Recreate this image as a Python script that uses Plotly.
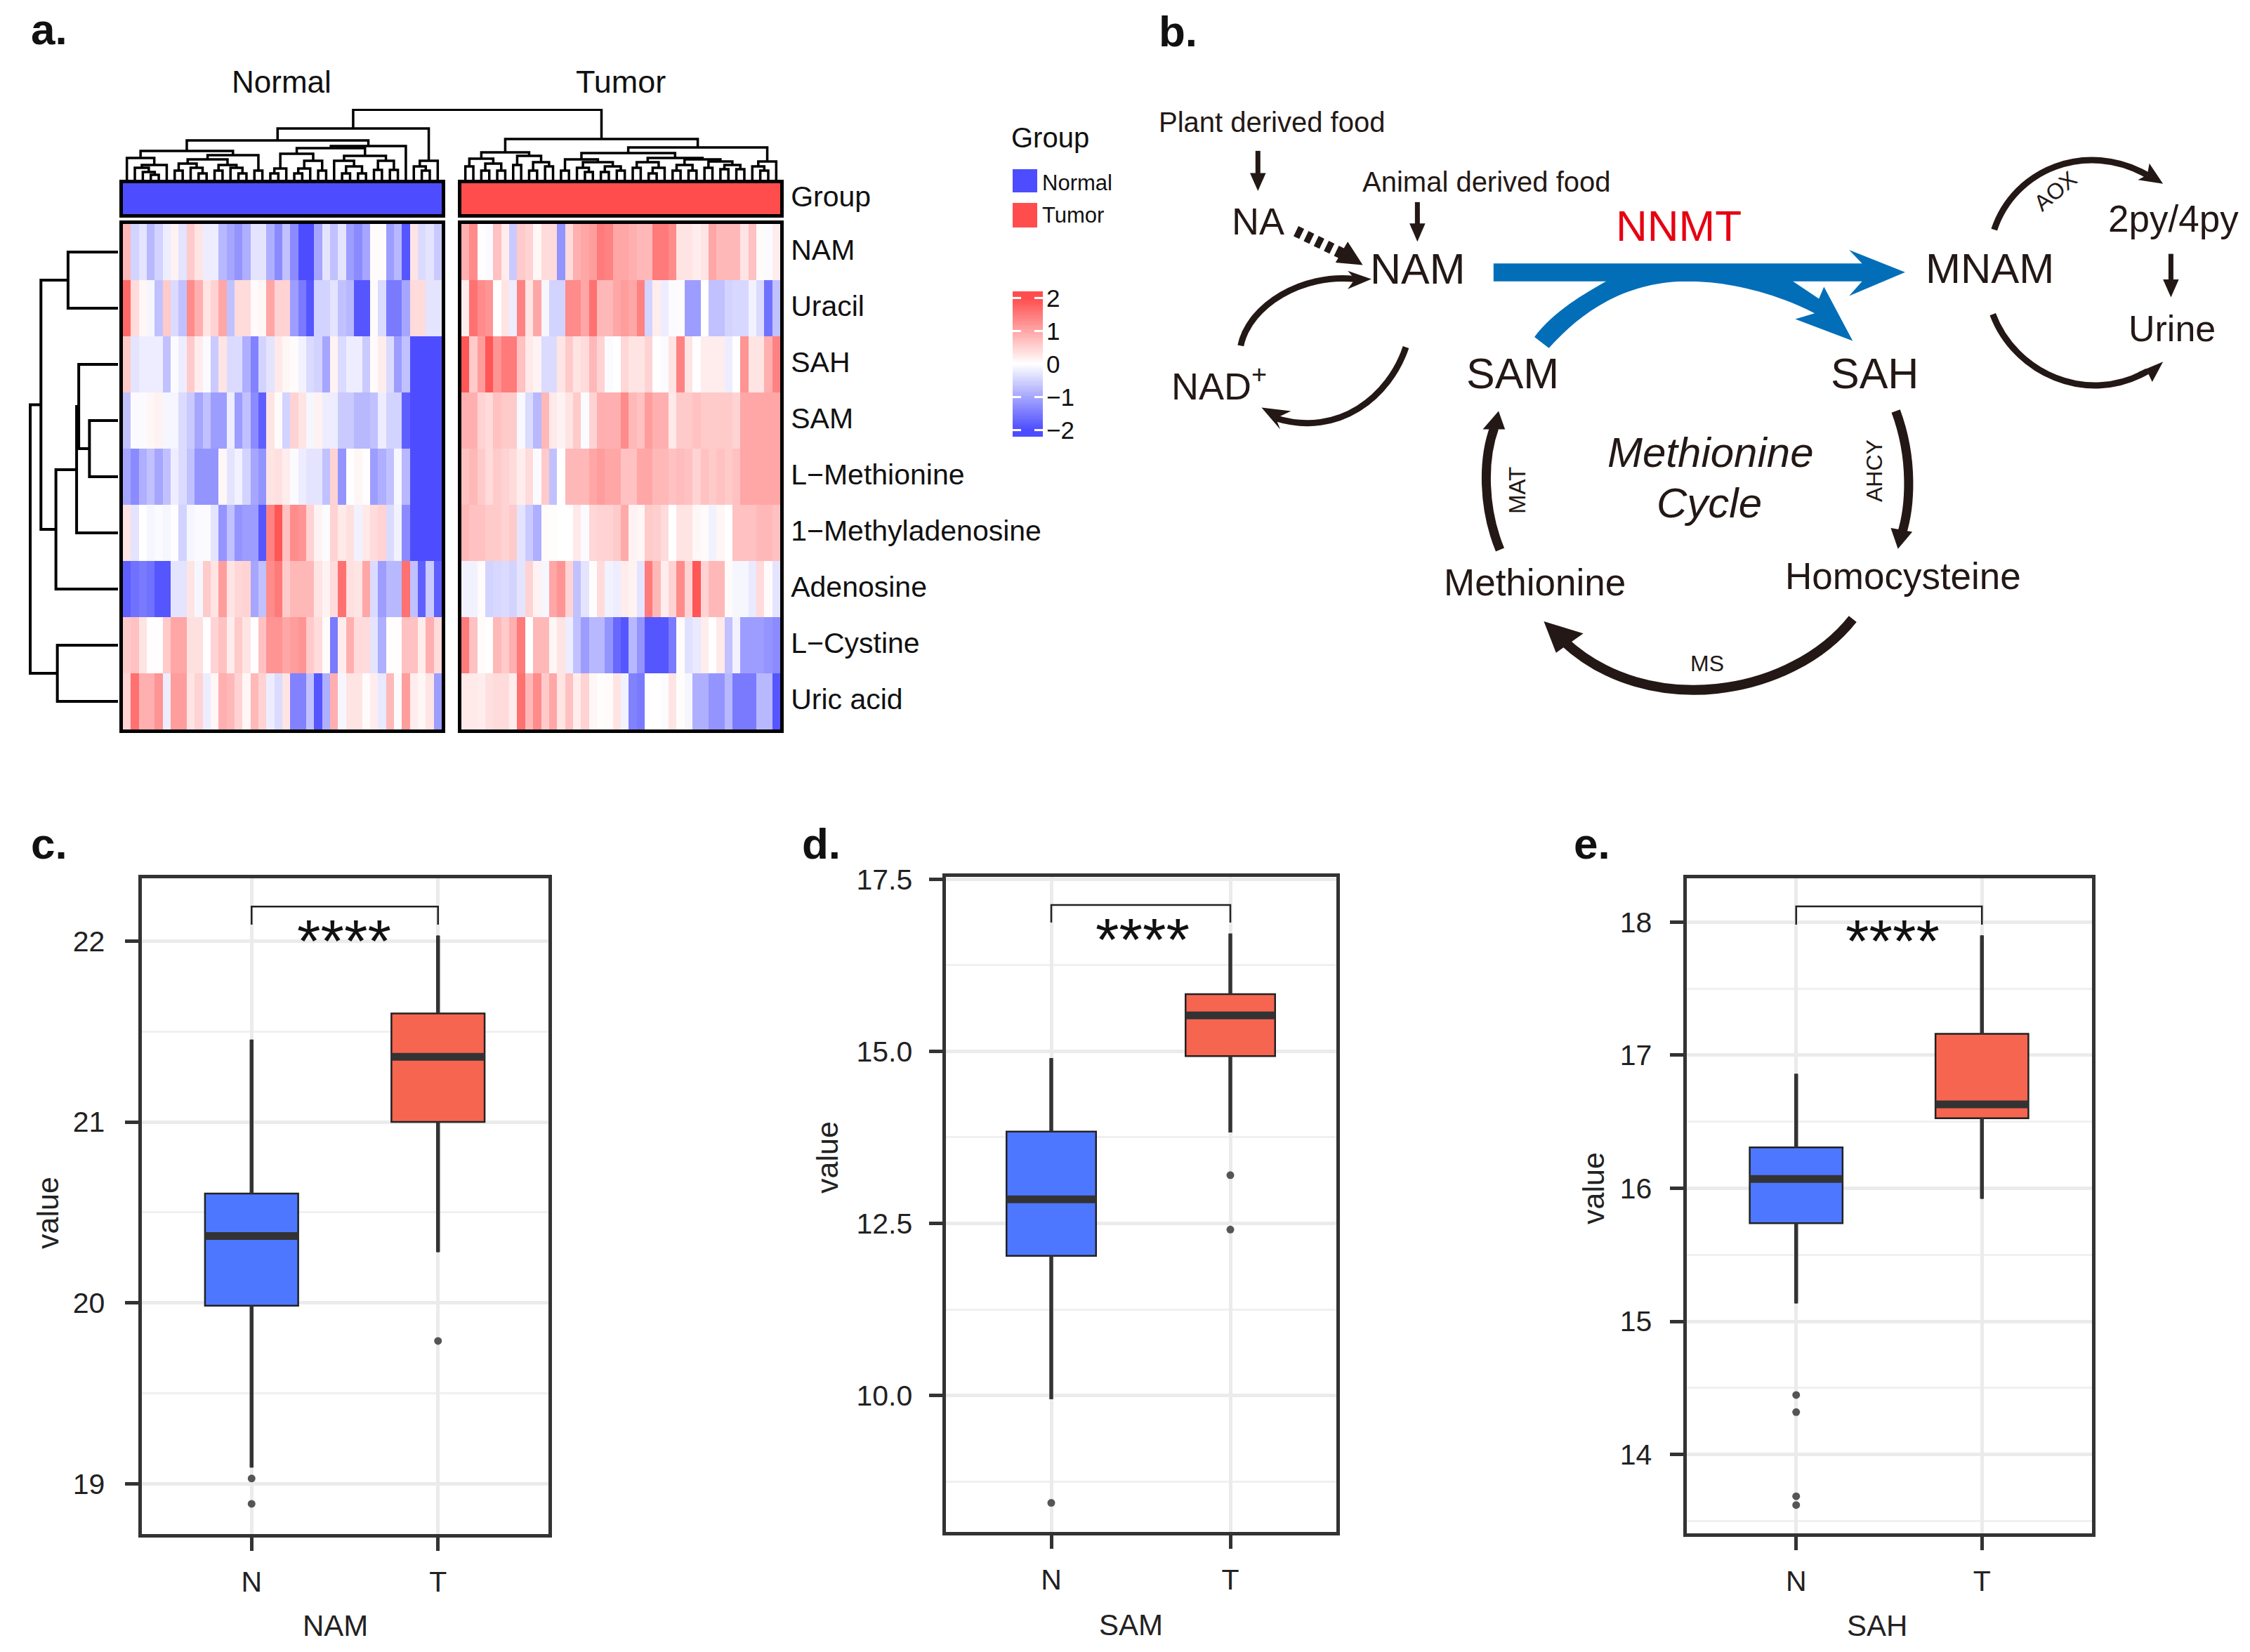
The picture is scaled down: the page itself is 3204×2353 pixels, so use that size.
import numpy as np
import plotly.graph_objects as go

# ---------- data ----------
row_names = ["NAM", "Uracil", "SAH", "SAM", "L\u2212Methionine", "1\u2212Methyladenosine",
             "Adenosine", "L\u2212Cystine", "Uric acid"]

normal_values = [
 [0.8,-0.5,-0.3,-0.8,-0.5,-0.2,0.15,-0.3,0.6,0.3,-0.2,-0.2,-0.8,-1.0,-1.2,-0.9,-0.3,-0.3,-0.9,-1.3,-0.7,-1.3,-2,-2,-1,-0.3,-0.7,-0.3,-1.1,-1.3,-1.0,0.05,0.05,-1.1,-0.8,-1.9,0.3,-0.4,-0.3,-0.6],
 [1.7,0.4,0.1,-0.1,-0.7,0.6,-0.4,-0.7,1.3,0.9,0.3,0.5,1.0,-0.7,0.4,0.4,0.05,0.1,1.0,0.5,0.5,-1.1,-1.5,-1.9,-0.5,-0.5,-0.3,-0.7,-0.8,-1.9,-1.9,0.05,-0.4,-1.5,-1.5,-1.0,0.4,0.4,-0.3,-0.3],
 [0.6,-0.3,-0.2,-0.2,-0.2,-0.7,-0.05,-0.2,0.6,0.2,-0.05,-0.6,0.3,-0.4,-0.4,-0.9,-1.4,-0.5,-0.3,0.25,0.1,0.05,-0.15,-0.4,-0.5,-1.0,0.15,-0.4,-0.2,-0.2,-0.6,0.05,0.2,-0.4,-1.1,-0.7,-2,-2,-2,-2],
 [-0.7,-0.05,-0.05,0.1,0.15,-0.1,-0.1,-0.4,-0.6,-1.0,-0.7,-1.1,-1.1,-0.2,-1.1,-0.7,-1.3,-1.8,0.3,0.05,-0.5,0.5,0.3,-0.1,0.15,-0.2,-0.2,-0.6,-0.6,-0.8,-0.8,-0.7,-0.2,-0.5,-0.5,-1.8,-2,-2,-2,-2],
 [-1.0,-1.3,-0.9,-0.7,-1.0,-0.7,-0.2,-0.4,-0.7,-1.2,-1.2,-1.2,0.1,-0.3,-0.15,-0.5,-1.0,-1.2,0.3,0.35,0.2,-0.05,-0.2,-0.3,-0.3,-0.7,0.5,-1.2,0.0,0.1,0.02,-1.1,-0.9,-0.7,-0.1,-0.8,-2,-2,-2,-2],
 [0.3,-0.3,0,-0.1,-0.05,-0.1,0.02,-0.5,-0.1,-0.05,-0.05,-0.3,-1.2,-0.7,-1.2,-1.1,-1.1,-1.9,1.4,1.9,0.7,1.3,1.2,0.5,0.15,-0.03,0.5,0.25,0.35,-0.15,0.25,0.4,0.5,-0.4,-0.15,-1.3,-2,-2,-2,-2],
 [-1.8,-1.6,-1.5,-1.6,-1.9,-1.9,-0.3,-0.3,0.3,-0.1,0.6,0.3,1.1,0.3,0.45,0.5,-1.0,-0.7,1.3,1.5,0.6,0.8,0.8,0.8,0.3,0.15,0.4,1.6,0.35,0.3,1.0,-0.4,-1.1,-0.8,-0.8,1.6,-0.7,-1.8,-0.6,-1.8],
 [0.6,0.7,0.3,0.02,0.02,0.6,1.0,1.0,0.35,0.35,0.0,0.5,0.7,0.2,0.6,0.3,0.02,0.7,1.2,1.2,1.0,1.1,1.2,0.6,0.4,0.05,-1.5,0.2,0.9,0.4,0.4,-0.3,-0.9,0.02,0.02,0.7,0.7,0.2,0.9,0.4],
 [0.5,1.6,0.9,0.9,1.2,-0.2,1.1,1.1,0.3,0.5,-0.2,0.1,0.9,0.8,0.5,0.1,0.8,0.5,-0.2,-0.4,0.3,-1.4,-1.4,-0.7,-1.9,-0.9,0.9,-0.1,0.3,0.3,0.05,0.2,-0.25,0.8,-0.05,1.1,0.2,0.1,0.3,-1.1],
]
tumor_values = [
 [0.9,1.3,0.02,-0.05,0.7,0.2,-0.6,0.6,0.5,0.1,0.4,0.4,-1.2,0.4,0.9,1.0,1.1,1.5,1.4,1.0,1.0,0.9,0.8,0.8,1.5,1.5,1.3,0.3,0.3,0.2,0.3,1.0,0.8,0.8,0.8,0.3,0.7,0.05,-0.05,0.2],
 [0.2,1.6,1.3,1.2,0.02,0.3,-0.2,1.4,0.3,1.0,-0.1,-0.5,-0.5,1.3,1.3,1.0,1.6,0.8,0.8,1.0,1.1,1.0,1.4,-0.5,0.2,-0.2,-0.05,-0.03,-1.1,-1.1,0,-0.7,-0.7,-0.5,-0.45,-0.45,-0.15,-0.4,-1.6,-0.7],
 [1.9,0.6,1.1,1.9,1.2,1.5,1.5,0.7,0.25,0.15,-0.4,-0.4,0.3,0.6,0.3,0.4,0.8,0.5,-0.05,0.0,0.45,0.3,0.3,0.5,0.0,-0.05,0.3,1.4,0.3,0.02,0.2,0.2,0.2,-0.2,0.0,1.2,0.3,0.3,0.9,1.4],
 [0.9,0.9,0.5,0.4,0.7,0.6,0.6,-0.08,-0.4,-0.8,0.8,0.25,0.15,0.3,0.6,-0.05,0.5,0.9,0.9,0.9,1.3,0.8,0.7,1.1,0.9,0.9,0.25,0.6,0.6,0.7,0.6,0.6,0.6,0.6,0.5,1.0,1.0,1.0,1.0,1.0],
 [0.7,0.8,0.6,0.4,0.6,0.5,0.4,0.2,0.4,-0.05,0.6,-0.7,0.0,0.8,0.8,0.8,1.0,1.1,1.0,1.0,0.7,0.7,1.0,1.0,0.8,0.8,0.7,0.75,0.7,0.5,0.7,0.6,0.7,0.6,0.7,1.0,1.0,1.0,1.0,1.0],
 [0.8,0.7,0.7,0.6,0.6,0.5,0.6,-0.3,-0.6,-0.9,0.05,0.03,0.0,0.0,0.25,-0.05,0.45,0.5,0.5,0.6,0.95,0.15,0.1,0.6,0.55,0.4,0.0,0.3,0.3,0.1,0.05,-0.15,0.1,0.0,0.7,0.7,0.7,0.8,0.8,0.7],
 [-0.15,-0.15,0.05,-0.5,-0.45,-0.4,-0.5,-0.3,0.5,0.15,-0.1,1.0,1.2,0.5,-0.7,-0.3,0.03,0.4,-0.15,-0.2,0.2,0.15,-0.3,1.5,0.8,0.2,0.5,1.3,0.5,1.9,0.5,0.8,0.8,0.05,-0.1,-0.1,-0.25,0.4,0.05,-0.3],
 [1.5,0.7,0.05,0.02,0.8,0.6,0.9,1.5,0.0,0.8,0.8,0.1,0.3,-0.2,-0.7,-1.1,-0.8,-0.8,-1.2,-1.7,-1.9,-0.8,-1.2,-1.9,-1.9,-1.9,-1.5,0.05,-0.35,-0.25,0.2,0.0,0.25,-0.7,-0.15,-1.1,-1.1,-1.1,-1.2,-1.3],
 [0.25,0.25,0.2,0.35,0.4,0.4,0.2,1.6,0.8,1.3,0.6,1.0,0.3,0.7,0.2,0.5,0.1,0.03,0.05,0.3,-0.15,-1.4,-1.5,0.0,0.0,-0.03,0.3,0.03,-0.1,-0.9,-0.9,-1.2,-1.2,-0.8,-1.5,-1.5,-1.5,-0.8,-0.8,-1.9],
]
L = None
normal_tree = (74,
    (57,
        (42,
            (32, L, (22, (18, L, (12, L, (8, L, L))), L)),
            (36,
                (30,
                    (24, (14, L, L), (18, L, (10, L, L))),
                    (22, (14, L, L), (18, L, (10, L, L)))),
                (14, L, L))),
        (49,
            (46,
                (38, (17, (10, L, L), L), (28, (17, (10, L, L), L), (14, L, L))),
                (35, (28, L, (20, (10, L, L), (10, L, L))), (28, (15, L, L), (15, L, L)))),
            L)),
    (28, (20, L, (14, L, L)), L))
tumor_tree = (59,
    (40,
        (31, (20, L, L), (24, (14, L, L), (14, L, L))),
        (35, (22, L, L), (26, (14, L, L), (20, L, L)))),
    (47,
        (39,
            (30, (14, L, L), (26, (18, L, (12, L, L)), (20, (12, L, L), (14, L, L)))),
            (32,
                (26, (18, L, L), (18, (10, L, L), L)),
                (30, (22, (14, L, L), (14, L, L)),
                     (27, (18, L, L), (22, (16, L, L), (16, L, L)))))),
        (27, (20, L, (14, L, L)), L)))
root_height = 100.7
row_tree = (123,
    (108, (70, L, L), (87, (58, (55, L, (40, L, L)), L), L)),
    (85, L, L))

box_groups = ["N", "T"]
panels = {
    "NAM": dict(q1=[19.985, 21.0], med=[20.37, 21.36], q3=[20.604, 21.6], low=[19.09, 20.28], up=[21.455, 22.03],
                out_n=[19.03, 18.89], out_t=[19.79], bracket=[22.09, 22.19], major=[19, 20, 21, 22],
                minor=[19.5, 20.5, 21.5], labels=["19", "20", "21", "22"], yr=[18.715, 22.358]),
    "SAM": dict(q1=[12.027, 14.93], med=[12.848, 15.52], q3=[13.834, 15.83], low=[9.945, 13.82], up=[14.9, 16.71],
                out_n=[8.44], out_t=[13.2, 12.41], bracket=[16.87, 17.124], major=[10, 12.5, 15, 17.5],
                minor=[8.75, 11.25, 13.75, 16.25], labels=["10.0", "12.5", "15.0", "17.5"], yr=[7.997, 17.563]),
    "SAH": dict(q1=[15.737, 16.526], med=[16.07, 16.63], q3=[16.307, 17.16], low=[15.135, 15.92], up=[16.86, 17.9],
                out_n=[14.447, 14.318, 13.686, 13.62], out_t=[], bracket=[17.98, 18.117], major=[14, 15, 16, 17, 18],
                minor=[13.5, 14.5, 15.5, 16.5, 17.5], labels=["14", "15", "16", "17", "18"], yr=[13.397, 18.344]),
}
legend_ticks = [-2, -1, 0, 1, 2]
legend_ticktext = ["\u22122", "\u22121", "0", "1", "2"]

# ---------- page geometry ----------
W, H, OFF = 3188, 2337, 8
FONT = "Liberation Sans"
DARK = "#231815"
BLUE = "#036EB8"
CS = [[0, "#4D4DFF"], [0.5, "#FFFFFF"], [1, "#FF4D4D"]]
BOXC = ["#4E77FF", "#F66550"]
GRID = "#EBEBEB"


def px(x):
    return (x - OFF) / W


def py(y):
    return 1 - (y - OFF) / H


def dx(a, b):
    return [px(a), px(b)]


def dy(top, bottom):
    return [py(bottom), py(top)]


fig = go.Figure()
layout = dict(width=W, height=H, margin=dict(l=0, r=0, t=0, b=0, pad=0), template="none",
              paper_bgcolor="white", plot_bgcolor="white", showlegend=False,
              font=dict(family=FONT, color="#111111"))
shapes, annotations = [], []


def hidden_axis(domain, rng=None, **kw):
    d = dict(domain=domain, showgrid=False, zeroline=False, showticklabels=False, ticks="", showline=False, fixedrange=True)
    if rng is not None:
        d["range"] = rng
    d.update(kw)
    return d


def ann(x, y, text, size, color="#111111", xanchor="center", yanchor="middle", rot=0, bold=False, italic=False):
    annotations.append(dict(xref="paper", yref="paper", x=px(x), y=py(y), text=text, showarrow=False,
                            xanchor=xanchor, yanchor=yanchor, textangle=rot, borderpad=0, borderwidth=0,
                            font=dict(family=FONT, size=size, color=color,
                                      weight="bold" if bold else "normal", style="italic" if italic else "normal")))


# ---------- panel a: heatmaps ----------
HX = [(175, 629), (657, 1111)]
H_TOP, H_BOT = 319, 1039
G_TOP, G_BOT = 261, 305
frame = dict(showline=True, mirror=True, linewidth=5, linecolor="black")
for i, (vals, (x0, x1), gname, gcol) in enumerate(zip([normal_values, tumor_values], HX, ["Normal", "Tumor"], ["#4D4DFF", "#FF4D4D"])):
    xa, ya = ("x", "y") if i == 0 else ("x2", "y2")
    xb, yb = f"x{i + 3}", f"y{i + 3}"
    fig.add_trace(go.Heatmap(z=vals, y=row_names, colorscale=CS, zmin=-2, zmax=2, showscale=False, xaxis=xa, yaxis=ya,
                             hoverinfo="skip"))
    fig.add_trace(go.Heatmap(z=[[0] * 40], y=["Group"], colorscale=[[0, gcol], [1, gcol]], showscale=False,
                             xaxis=xb, yaxis=yb, hoverinfo="skip"))
    suffix = "" if i == 0 else "2"
    layout["xaxis" + suffix] = hidden_axis(dx(x0, x1), [-0.5, 39.5], anchor=ya, **frame)
    yax = hidden_axis(dy(H_TOP, H_BOT), [8.5, -0.5], anchor=xa, type="category", categoryorder="array",
                      categoryarray=row_names, **frame)
    gb = hidden_axis(dy(G_TOP, G_BOT), [-0.5, 0.5], anchor=xb, type="category", **frame)
    if i == 1:
        lab = dict(side="right", showticklabels=True, tickfont=dict(family=FONT, size=41, color="#111111"),
                   ticks="", ticklabelstandoff=2)
        yax.update(lab, ticklabelshift=3)
        gb.update(lab, ticklabelshift=-3)
    layout["yaxis" + suffix] = yax
    layout[f"xaxis{i + 3}"] = hidden_axis(dx(x0, x1), [-0.5, 39.5], anchor=yb, **frame)
    layout[f"yaxis{i + 3}"] = gb


def walk(node, next_leaf, horizontal=False):
    """Return (position, height, segments) of a tree whose leaves are numbered in order."""
    if node is None:
        pos = next_leaf[0]
        next_leaf[0] += 1
        return pos, 0, []
    h, a, b = node
    pa, ha, sa = walk(a, next_leaf)
    pb, hb, sb = walk(b, next_leaf)
    seg = [(pa, ha), (pa, h), (pb, h), (pb, hb)]
    return (pa + pb) / 2, h, sa + sb + [seg]


GAP = (657 - 629) / ((629 - 175) / 40)
counter = [0.5]
pn, hn, seg_n = walk(normal_tree, counter)
counter = [40 + GAP + 0.5]
pt, ht, seg_t = walk(tumor_tree, counter)
segs = seg_n + seg_t + [[(pn, hn), (pn, root_height), (pt, root_height), (pt, ht)]]
xs, ys = [], []
for s in segs:
    xs += [p[0] for p in s] + [None]
    ys += [p[1] for p in s] + [None]
fig.add_trace(go.Scatter(x=xs, y=ys, mode="lines", line=dict(color="black", width=3.5), xaxis="x5", yaxis="y5", hoverinfo="skip"))
layout["xaxis5"] = hidden_axis(dx(175, 1111), [0, 80 + GAP], anchor="y5")
layout["yaxis5"] = hidden_axis(dy(155, 257), [0, 102], anchor="x5")

counter = [0]
_, _, seg_r = walk(row_tree, counter)
xs, ys = [], []
for s in seg_r:
    xs += [p[1] for p in s] + [None]
    ys += [p[0] for p in s] + [None]
fig.add_trace(go.Scatter(x=xs, y=ys, mode="lines", line=dict(color="black", width=4), xaxis="x6", yaxis="y6", hoverinfo="skip"))
layout["xaxis6"] = hidden_axis(dx(40, 168), [126, 0], anchor="y6")
layout["yaxis6"] = hidden_axis(dy(H_TOP, H_BOT), [8.5, -0.5], anchor="x6")

ann(401, 116, "Normal", 44)
ann(884, 116, "Tumor", 45)
# group legend
ann(1440, 196, "Group", 40, xanchor="left")
for name, col, y0, y1, yt in [("Normal", "#4D4DFF", 241, 274, 260), ("Tumor", "#FF4D4D", 289, 324, 306)]:
    shapes.append(dict(type="rect", xref="paper", yref="paper", x0=px(1442), x1=px(1477), y0=py(y0), y1=py(y1),
                       fillcolor=col, line=dict(width=0)))
    ann(1484, yt, name, 31, xanchor="left")
# colour legend
ramp = np.arange(-2.2, 2.2001, 0.05)
fig.add_trace(go.Heatmap(z=[[v] for v in ramp], y=ramp, colorscale=CS, zmin=-2, zmax=2, showscale=False,
                         xaxis="x7", yaxis="y7", hoverinfo="skip"))
layout["xaxis7"] = hidden_axis(dx(1442, 1485), [-0.5, 0.5], anchor="y7")
layout["yaxis7"] = hidden_axis(dy(415, 622), [-2.2, 2.2], anchor="x7", side="right", showticklabels=True,
                               tickvals=legend_ticks, ticktext=legend_ticktext, ticks="", ticklabelstandoff=4,
                               tickfont=dict(family=FONT, size=35, color="#111111"))
for v in legend_ticks:
    for a, b in [(0, 0.28), (0.72, 1)]:
        shapes.append(dict(type="line", xref="x7 domain", yref="y7", x0=a, x1=b, y0=v, y1=v,
                           line=dict(color="white", width=3)))

# ---------- panel b: pathway diagram ----------


def zx(x):
    return px(1600 + x * 1.0229)


def zy(y):
    return py(y / 1.452)


def path(*segsp, close=False):
    out = []
    for seg in segsp:
        cmd, nums = seg[0], seg[1:]
        pts = " ".join(f"{zx(nums[i]):.5f},{zy(nums[i + 1]):.5f}" for i in range(0, len(nums), 2))
        out.append(f"{cmd}{pts}")
    return " ".join(out) + (" Z" if close else "")


def stroke(width, *segsp, color=DARK, dash=None):
    line = dict(color=color, width=width)
    if dash:
        line["dash"] = dash
    shapes.append(dict(type="path", xref="paper", yref="paper", path=path(*segsp), line=line,
                       fillcolor="rgba(0,0,0,0)"))


def fill(color, *segsp):
    shapes.append(dict(type="path", xref="paper", yref="paper", path=path(*segsp, close=True), fillcolor=color,
                       line=dict(width=0)))


def head(tip, b1, b2, notch=None):
    pts = [("M", *tip), ("L", *b1)]
    if notch:
        pts.append(("L", *notch))
    pts.append(("L", *b2))
    fill(DARK, *pts)


# food arrows
stroke(7, ("M", 187, 312), ("L", 187, 368))
head((187, 395), (176, 358), (198, 358))
stroke(7, ("M", 409, 418), ("L", 409, 472))
head((409, 500), (398, 462), (420, 462))
stroke(7, ("M", 1458, 525), ("L", 1458, 588))
head((1458, 615), (1447, 578), (1469, 578))
# NA -> NAM dotted
stroke(16, ("M", 240, 478), ("L", 312, 530), dash="9px,7px")
head((333, 548), (312, 500), (295, 543))
# NAD+ arcs
stroke(9, ("M", 163, 715), ("C", 175, 630, 250, 565, 322, 577))
head((345, 577), (312, 560), (312, 598), (322, 577))
stroke(9, ("M", 393, 718), ("C", 370, 820, 300, 905, 212, 865))
head((192, 843), (218, 888), (233, 850), (212, 865))
# NNMT blue arrows
fill(BLUE, ("M", 515, 545), ("L", 1028, 545), ("L", 1010, 517), ("L", 1088, 563), ("L", 1010, 612), ("L", 1028, 582), ("L", 515, 582))
fill(BLUE, ("M", 572, 697), ("C", 600, 640, 650, 600, 680, 575), ("L", 925, 575), ("L", 968, 618), ("L", 975, 593),
     ("L", 1015, 705), ("L", 935, 660), ("L", 962, 648), ("C", 900, 600, 830, 580, 780, 582), ("C", 700, 585, 640, 640, 592, 720))
# MNAM arcs
stroke(9, ("M", 1212, 475), ("C", 1240, 350, 1340, 290, 1425, 362))
head((1447, 380), (1428, 338), (1412, 372), (1425, 362))
stroke(9, ("M", 1210, 650), ("C", 1240, 770, 1340, 840, 1425, 768))
head((1447, 748), (1412, 770), (1432, 790), (1425, 768))
# methionine cycle
stroke(13, ("M", 1075, 850), ("C", 1100, 950, 1095, 1050, 1083, 1105))
head((1078, 1135), (1068, 1092), (1098, 1100))
stroke(13, ("M", 524, 1137), ("C", 500, 1050, 500, 950, 516, 885))
head((522, 850), (500, 888), (531, 888))
stroke(14, ("M", 1015, 1280), ("C", 930, 1440, 730, 1490, 612, 1325))
head((585, 1285), (640, 1310), (602, 1350))

for x, y, t, s in [(1811, 174, "Plant derived food", 40), (2117, 259, "Animal derived food", 40), (1791, 315, "NA", 54),
                   (2019, 383, "NAM", 61), (2833, 383, "MNAM", 60), (3095, 311, "2py/4py", 53), (3093, 468, "Urine", 52),
                   (2154, 532, "SAM", 61), (2669, 532, "SAH", 61), (2185, 829, "Methionine", 53),
                   (2710, 820, "Homocysteine", 53), (2431, 945, "MS", 32)]:
    ann(x, y, t, s, color=DARK)
ann(1736, 546, "NAD<sup>+</sup>", 54, color=DARK)
ann(2390, 322, "NNMT", 62, color="#E60012")
ann(2436, 644, "Methionine", 60, color=DARK, italic=True)
ann(2434, 716, "Cycle", 60, color=DARK, italic=True)
ann(2160, 699, "MAT", 33, color=DARK, rot=-90)
ann(2669, 671, "AHCY", 32, color=DARK, rot=-90)
ann(2927, 272, "AOX", 32, color=DARK, rot=-40)

# ---------- panels c, d, e: box plots ----------
LW = 5
geom = [
    ("NAM", 8, (199, 783), (1248, 2187), (68, 1727), (477, 2315), (0.497, 1340), 20),
    ("SAM", 9, (1344, 1905), (1246, 2184), (1178, 1649), (1610, 2314), (0.51, 1338), 15),
    ("SAH", 10, (2399, 2981), (1248, 2186), (2269, 1693), (2673, 2315), (0.52, 1340), 17),
]
for name, k, (x0, x1), (y0, y1), vpos, tpos, (star_x, star_y), ystand in geom:
    p = panels[name]
    xa, ya = f"x{k}", f"y{k}"
    for i in range(2):
        fig.add_trace(go.Box(x=[i], q1=[p["q1"][i]], median=[p["med"][i]], q3=[p["q3"][i]],
                             lowerfence=[p["low"][i]], upperfence=[p["up"][i]], width=0.5, whiskerwidth=0,
                             boxpoints=False, fillcolor=BOXC[i], line=dict(color="#222222", width=2.5),
                             xaxis=xa, yaxis=ya, name=box_groups[i], hoverinfo="skip"))
        for lo, hi in [(p["q3"][i], p["up"][i]), (p["low"][i], p["q1"][i])]:
            fig.add_trace(go.Scatter(x=[i, i], y=[lo, hi], mode="lines", line=dict(color="#333333", width=5.5),
                                     xaxis=xa, yaxis=ya, hoverinfo="skip"))
        fig.add_trace(go.Scatter(x=[i - 0.25, i + 0.25], y=[p["med"][i]] * 2, mode="lines",
                                 line=dict(color="#333333", width=11), xaxis=xa, yaxis=ya, hoverinfo="skip"))
    for i, key in enumerate(["out_n", "out_t"]):
        if p[key]:
            fig.add_trace(go.Scatter(x=[i] * len(p[key]), y=p[key], mode="markers",
                                     marker=dict(color="#555555", size=11), xaxis=xa, yaxis=ya, hoverinfo="skip"))
    lo, hi = p["bracket"]
    fig.add_trace(go.Scatter(x=[0, 0, 1, 1], y=[lo, hi, hi, lo], mode="lines", line=dict(color="#222222", width=2.5),
                             xaxis=xa, yaxis=ya, hoverinfo="skip"))
    axis_common = dict(showline=True, mirror=True, linewidth=LW, linecolor="#333333", ticks="outside", ticklen=19,
                       tickwidth=4.5, tickcolor="#333333", tickfont=dict(family=FONT, size=41, color="#222222"),
                       zeroline=False, showgrid=True, gridcolor=GRID, gridwidth=5, fixedrange=True)
    # the frame line is drawn outside the plot area, so the plot area sits half a line inside the measured frame
    xspan = 2.2 * (LW / 2) / (x1 - x0)
    yspan = (p["yr"][1] - p["yr"][0]) * (LW / 2) / (y1 - y0)
    layout[f"xaxis{k}"] = dict(domain=dx(x0 + LW / 2, x1 - LW / 2), range=[-0.6 + xspan, 1.6 - xspan], anchor=ya,
                               tickvals=[0, 1], ticktext=box_groups, ticklabelstandoff=9, **axis_common)
    layout[f"yaxis{k}"] = dict(domain=dy(y0 + LW / 2, y1 - LW / 2), range=[p["yr"][0] + yspan, p["yr"][1] - yspan],
                               anchor=xa, tickvals=p["major"], ticktext=p["labels"], ticklabelstandoff=ystand,
                               minor=dict(tickvals=p["minor"], showgrid=True, gridcolor="#F0F0F0", gridwidth=2.5, ticks=""),
                               **axis_common)
    ann(vpos[0], vpos[1], "value", 43, color="#222222", rot=-90)
    ann(tpos[0], tpos[1], name, 42, color="#222222")
    annotations.append(dict(xref=xa, yref="paper", x=star_x, y=py(star_y), text="****", showarrow=False,
                            xanchor="center", yanchor="middle",
                            font=dict(family=FONT, size=86, color="#111111")))

# panel letters
for x, y, t in [(44, 42, "a."), (1650, 44, "b."), (44, 1201, "c."), (1142, 1201, "d."), (2241, 1201, "e.")]:
    ann(x, y, t, 62, color="#111111", xanchor="left", bold=True)

layout["shapes"] = shapes
layout["annotations"] = annotations
fig.update_layout(**layout)
fig.write_html("out.html")
